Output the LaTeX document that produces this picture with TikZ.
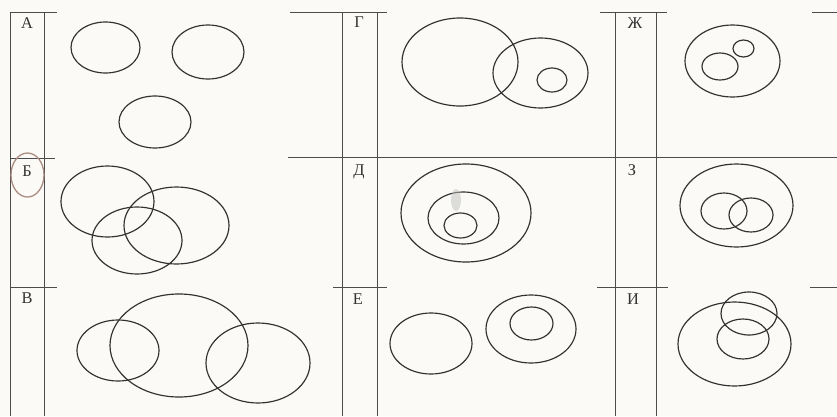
\documentclass[tikz,border=0pt]{standalone}
\usepackage{fontspec}
\setmainfont{Liberation Serif}
\usepackage{tikz}
\definecolor{paper}{RGB}{251,250,247}
\definecolor{pencil}{RGB}{50,50,50}
\definecolor{marker}{RGB}{170,140,128}
\tikzset{
  rule/.style={draw=black!70,line width=0.65pt},
  set/.style={draw=pencil,line width=1pt},
  lbl/.style={font=\fontsize{14}{16}\selectfont,text=black!80,inner sep=0pt},
}

\begin{document}
\begin{tikzpicture}[x=0.03cm,y=-0.03cm]
  \fill[paper](0,0) rectangle (837,416);
  \useasboundingbox (0,0) rectangle (837,416);
  % label columns
  \foreach \xa/\xb in {10/44,342/377,615/656}{
    \draw[rule](\xa,12)--(\xa,416);
    \draw[rule](\xb,12)--(\xb,416);
  }
  % row rules
  \draw[rule](10,12)--(57,12);
  \draw[rule](290,12)--(387,12);
  \draw[rule](600,12)--(667,12);
  \draw[rule](812,12)--(837,12);
  \draw[rule](10,158)--(55,158);
  \draw[rule](288,157)--(837,157);
  \draw[rule](10,287)--(57,287);
  \draw[rule](333,287)--(387,287);
  \draw[rule](597,287)--(668,287);
  \draw[rule](810,287)--(837,287);
  % letters
  \node[lbl] (lA) at (27,23) {А};
  \node[lbl] (lB) at (27,171) {Б};
  \node[lbl] (lV) at (27,298) {В};
  \node[lbl] (lG) at (359,22) {Г};
  \node[lbl] (lD) at (359,172) {Д};
  \node[lbl] (lE) at (358,299) {Е};
  \node[lbl] (lZh) at (635,23) {Ж};
  \node[lbl] (lZ) at (632,170) {З};
  \node[lbl] (lI) at (633,299) {И};
  \draw[marker,line width=1.1pt](27.5,175) ellipse [x radius=16.5,y radius=22];
  % A
  \draw[set](105.5,47.5) ellipse [x radius=34.5,y radius=25.5];
  \draw[set](208,52) ellipse [x radius=36,y radius=27];
  \draw[set](155,122) ellipse [x radius=36,y radius=26];
  % B
  \draw[set](107.5,201.5) ellipse [x radius=46.5,y radius=35.5];
  \draw[set](137,240.5) ellipse [x radius=45,y radius=33.5];
  \draw[set](176.5,225.5) ellipse [x radius=52.5,y radius=38.5];
  % V
  \draw[set](118,350.5) ellipse [x radius=41,y radius=30.5];
  \draw[set](179,345.5) ellipse [x radius=69,y radius=51.5];
  \draw[set](258,363) ellipse [x radius=52,y radius=40];
  % G
  \draw[set](460,62) ellipse [x radius=58,y radius=44];
  \draw[set](540.5,73) ellipse [x radius=47.5,y radius=35];
  \draw[set](552,80) ellipse [x radius=15,y radius=12];
  % D
  \draw[set](466,213) ellipse [x radius=65,y radius=49];
  \draw[set](463.5,218) ellipse [x radius=35.5,y radius=26];
  \draw[set](460.5,225.5) ellipse [x radius=16.5,y radius=12.5];
  \fill[black!25,opacity=0.5](456,200) ellipse [x radius=5,y radius=11];
  % E
  \draw[set](431,343.5) ellipse [x radius=41,y radius=30.5];
  \draw[set](531,329) ellipse [x radius=45,y radius=34];
  \draw[set](531.5,323.5) ellipse [x radius=21.5,y radius=16.5];
  % Zh
  \draw[set](732.5,61) ellipse [x radius=47.5,y radius=36];
  \draw[set](720,66.5) ellipse [x radius=18,y radius=13.5];
  \draw[set](743.5,48.5) ellipse [x radius=10.5,y radius=8.5];
  % Z
  \draw[set](736.5,205.5) ellipse [x radius=56.5,y radius=41.5];
  \draw[set](724,211) ellipse [x radius=23,y radius=18];
  \draw[set](751,215) ellipse [x radius=22,y radius=17];
  % I
  \draw[set](734.5,344) ellipse [x radius=56.5,y radius=42];
  \draw[set](749,313.5) ellipse [x radius=28,y radius=21.5];
  \draw[set](743,339) ellipse [x radius=26,y radius=20];
\end{tikzpicture}
\end{document}
